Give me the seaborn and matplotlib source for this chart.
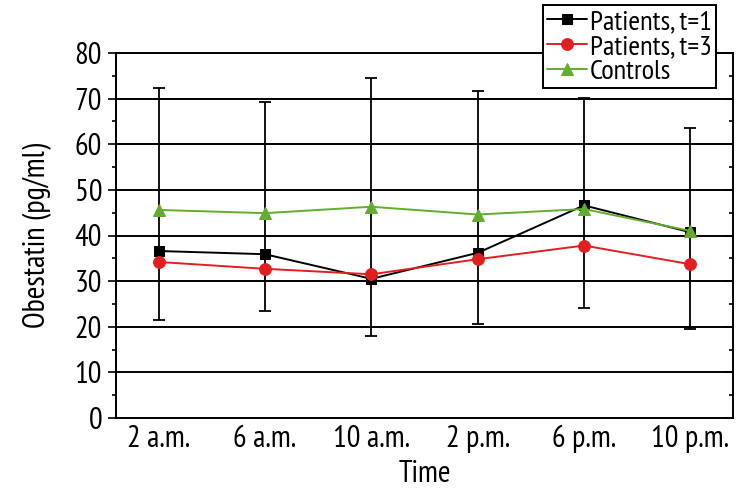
import matplotlib
matplotlib.use("Agg")
import matplotlib.pyplot as plt
import seaborn as sns
import numpy as np
import pandas as pd
from matplotlib.ticker import MultipleLocator

times = ["2 a.m.", "6 a.m.", "10 a.m.", "2 p.m.", "6 p.m.", "10 p.m."]
patients_t1 = [36.6, 35.9, 30.5, 36.2, 46.6, 40.7]
patients_t3 = [34.2, 32.7, 31.5, 34.8, 37.8, 33.7]
controls = [45.6, 44.9, 46.3, 44.6, 45.8, 41.0]
err_high = [72.3, 69.2, 74.5, 71.7, 70.1, 63.6]
err_low = [21.5, 23.4, 17.9, 20.6, 24.2, 19.4]

sns.set_style("white")
plt.rcParams['font.family'] = ['PT Sans Narrow', 'DejaVu Sans']

fig = plt.figure(figsize=(7.5, 5), dpi=100)
ax = fig.add_axes([0.1547, 0.164, 0.8226, 0.730])

pos = np.arange(len(times))
# error bars
ax.vlines(pos, err_low, err_high, color="black", lw=1.3, zorder=2)
ax.plot(pos, err_low, ls="none", marker="_", ms=9, mew=1.3, color="black", zorder=2)
ax.plot(pos, err_high, ls="none", marker="_", ms=9, mew=1.3, color="black", zorder=2)

series = [
    ("Patients, t=1", patients_t1, "black", "s", 7.5),
    ("Patients, t=3", patients_t3, "#e02020", "o", 8.5),
    ("Controls", controls, "#62ad2f", "^", 9),
]
for name, vals, col, mk, ms in series:
    df = pd.DataFrame({"x": pos, "y": vals})
    sns.lineplot(data=df, x="x", y="y", ax=ax, color=col, marker=mk, markersize=ms,
                 markeredgecolor=col, lw=1.4, label=name, zorder=3)

ax.set_xlim(-0.4, 5.4)
ax.set_ylim(0, 80)
ax.yaxis.set_major_locator(MultipleLocator(10))
ax.yaxis.set_minor_locator(MultipleLocator(5))
for y in range(10, 80, 10):
    ax.axhline(y, color="black", lw=1.4, zorder=1)

ax.set_xticks(np.arange(0.5, 5.5, 1.0))
ax.set_xticklabels([])
ax.set_xticks(pos, times, minor=True)
ax.tick_params(axis="x", which="major", direction="in", length=6, width=1.2, color="black")
ax.tick_params(axis="x", which="minor", length=0, labelsize=22, pad=5, labelcolor="black")
ax.tick_params(axis="y", which="major", direction="out", length=6, width=1.2, color="black",
               labelsize=22, left=True, right=True, labelcolor="black", pad=4)
ax.tick_params(axis="y", which="minor", direction="out", length=3, width=1.2, color="black",
               left=True, right=True)
# right ticks inward
for t in ax.yaxis.get_major_ticks() + ax.yaxis.get_minor_ticks():
    t.tick2line.set_marker(matplotlib.lines.TICKLEFT)

for s in ax.spines.values():
    s.set_visible(True)
    s.set_color("black")
    s.set_linewidth(1.4)

ax.set_xlabel("Time", fontsize=22, labelpad=5, color="black")
ax.set_ylabel("Obestatin (pg/ml)", fontsize=22, labelpad=16, color="black")

leg = ax.legend(loc="upper left", bbox_to_anchor=(543/750, 1 - 5/500), bbox_transform=fig.transFigure,
                frameon=True, fancybox=False, fontsize=20.5, handlelength=1.4, handletextpad=0.1,
                borderpad=0.15, labelspacing=0.0, borderaxespad=0)
leg.get_frame().set_edgecolor("black")
leg.get_frame().set_linewidth(1.4)
leg.get_frame().set_alpha(1)
for t in leg.get_texts():
    t.set_color("black")

fig.savefig("out.png", dpi=100)
